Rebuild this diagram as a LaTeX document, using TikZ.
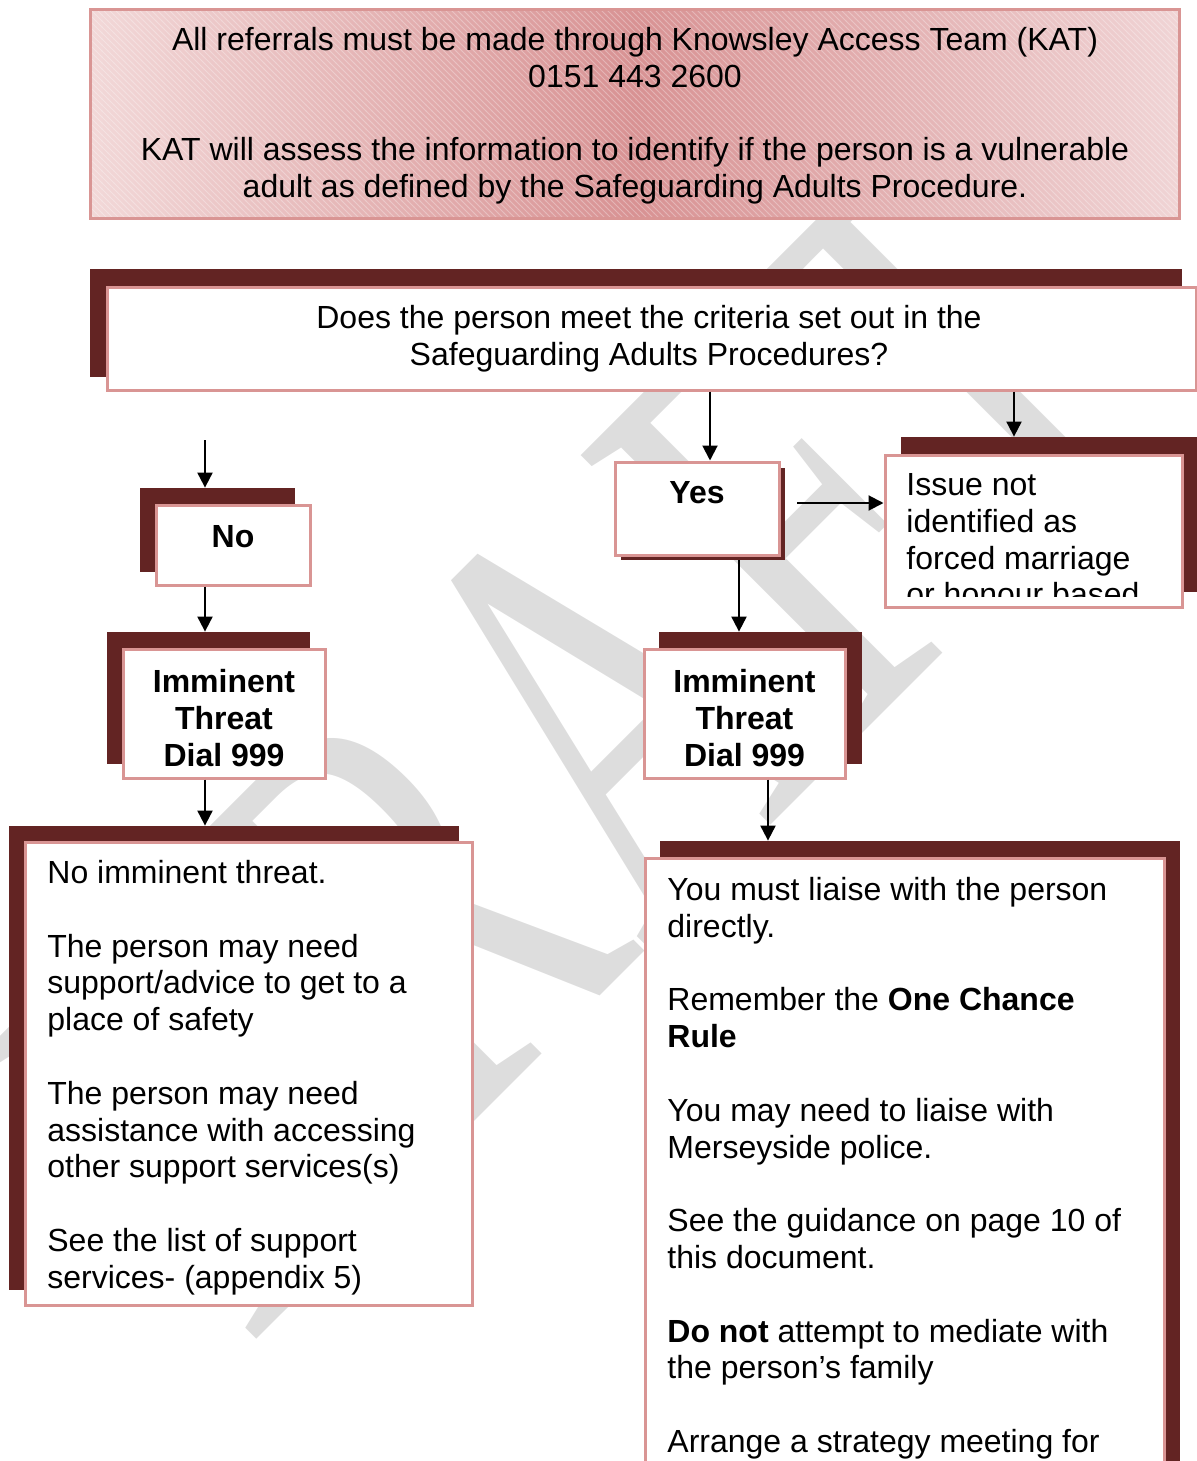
\documentclass[tikz,border=0pt]{standalone}
\usepackage{graphicx}
\usepackage{fontspec}
\setmainfont{Liberation Sans}
\newfontfamily\wmfont{Liberation Serif}
\usetikzlibrary{arrows.meta,patterns,fit,calc}

\definecolor{shadowred}{RGB}{99,36,35}
\definecolor{rosebord}{RGB}{217,149,148}
\definecolor{wmgrey}{RGB}{221,221,221}
\definecolor{roseL}{RGB}{242,216,216}
\definecolor{roseM}{RGB}{216,146,147}
\definecolor{roseR}{RGB}{240,212,213}

\newcommand\bodysize{\fontsize{16pt}{18.4pt}\selectfont}
\newcommand\fl{\rule{0pt}{12pt}}% fixed height of a first line

\begin{document}
\begin{tikzpicture}[x=0.5pt,y=-0.5pt,
  box/.style={draw=rosebord, line width=1.5pt, fill=white, inner sep=0pt},
  shadowbox/.style={fill=shadowred, draw=none, inner sep=0pt},
  txt/.style={font=\bodysize, inner sep=0pt, anchor=north west, align=left},
  ctxt/.style={font=\bodysize, inner sep=0pt, anchor=north, align=center},
  btxt/.style={font=\bodysize\bfseries, inner sep=0pt, anchor=north, align=center},
  arr/.style={line width=1pt, -{Triangle[length=7.5pt,width=7.5pt]}},
  wm/.style={text=wmgrey, inner sep=0pt, anchor=base west,
    font=\wmfont\fontsize{302pt}{302pt}\selectfont}]

\useasboundingbox (0,0) rectangle (1197,1461);
\clip (0,0) rectangle (1197,1461);

% watermark behind everything
\node[wm, rotate=45] (wmark) at (248,1348) {\scalebox{0.67}[1]{DRAFT}};

% header box: pink gradient, light hatching, rose border
\node[fit={(91,10) (1179,218)}, inner sep=0pt, left color=roseL, right color=roseR, middle color=roseM] (head) {};
\fill[pattern=north west lines, pattern color=white, opacity=0.3] (head.north west) rectangle (head.south east);
\draw[rosebord, line width=1.5pt] (head.north west) rectangle (head.south east);
\node[ctxt] (headtext) at (635,26) {\fl All referrals must be made through Knowsley Access Team (KAT)\\
  0151 443 2600\\[18.4pt]
  KAT will assess the information to identify if the person is a vulnerable\\
  adult as defined by the Safeguarding Adults Procedure.};

% question box
\node[shadowbox, fit={(90,269) (1182,377)}] (dec-sh) {};
\node[box, fit={(107,287) (1196,390)}] (dec) {};
\node[ctxt] (dectext) at (649,304) {\fl Does the person meet the criteria set out in the\\ Safeguarding Adults Procedures?};

% yes
\node[shadowbox, fit={(621,468) (785,560)}] (yes-sh) {};
\node[box, fit={(615,462) (779,555)}] (yes) {};
\node[btxt] (yestext) at (697,479) {\fl Yes};

% issue not identified
\node[shadowbox, fit={(901,437) (1197,592)}] (iss-sh) {};
\node[box, fit={(885,455) (1182,607)}] (iss) {};
\begin{scope}
  \clip (885,455) rectangle (1182,596);
  \node[txt] (isstext) at (906,471) {\fl Issue not\\ identified as\\ forced marriage\\ or honour based};
\end{scope}

% no
\node[shadowbox, fit={(140,488) (295,572)}] (no-sh) {};
\node[box, fit={(156,505) (310,585)}] (no) {};
\node[btxt] (notext) at (233,523) {\fl No};

% imminent threat, left
\node[shadowbox, fit={(107,632) (310,764)}] (limm-sh) {};
\node[box, fit={(123,649) (325,778)}] (limm) {};
\node[btxt] (limmtext) at (224,668) {\fl Imminent\\ Threat\\ Dial 999};

% imminent threat, right
\node[shadowbox, fit={(659,632) (862,764)}] (rimm-sh) {};
\node[box, fit={(644,649) (845,778)}] (rimm) {};
\node[btxt] (rimmtext) at (744.5,668) {\fl Imminent\\ Threat\\ Dial 999};

% no imminent threat
\node[shadowbox, fit={(9,826) (459,1290)}] (nt-sh) {};
\node[box, fit={(25,842) (472,1305)}] (nt) {};
\node[txt] (nttext) at (47,859) {\fl No imminent threat.\\[18.4pt]
  The person may need\\ support/advice to get to a\\ place of safety\\[18.4pt]
  The person may need\\ assistance with accessing\\ other support services(s)\\[18.4pt]
  See the list of support\\ services- (appendix 5)};

% actions box
\node[shadowbox, fit={(660,841) (1180,1480)}] (big-sh) {};
\node[box, fit={(645,858) (1164,1490)}] (big) {};
\node[txt] (bigtext) at (667,876) {\fl You must liaise with the person\\ directly.\\[18.4pt]
  Remember the \textbf{One Chance}\\ \textbf{Rule}\\[18.4pt]
  You may need to liaise with\\ Merseyside police.\\[18.4pt]
  See the guidance on page 10 of\\ this document.\\[18.4pt]
  \textbf{Do not} attempt to mediate with\\ the person’s family\\[18.4pt]
  Arrange a strategy meeting for};

% connectors
\coordinate (xyes) at (710,0);
\coordinate (xiss) at (1014,0);
\coordinate (xrimm) at (739,0);
\coordinate (xbig) at (768,0);
\coordinate (nostart) at (205,440);
\coordinate (yesout) at (797,503);

\draw[arr] (dec.south -| xyes) -- (yes.north -| xyes);
\draw[arr] (dec.south -| xiss) -- (iss-sh.north -| xiss);
\draw[arr] (yesout) -- (yesout -| iss.west);
\draw[arr] (yes-sh.south -| xrimm) -- (rimm-sh.north -| xrimm);
\draw[arr] (rimm.south -| xbig) -- (big-sh.north -| xbig);
\draw[arr] (nostart) -- (no-sh.north -| nostart);
\draw[arr] (no.south -| nostart) -- (limm-sh.north -| nostart);
\draw[arr] (limm.south -| nostart) -- (nt-sh.north -| nostart);
\end{tikzpicture}
\end{document}
